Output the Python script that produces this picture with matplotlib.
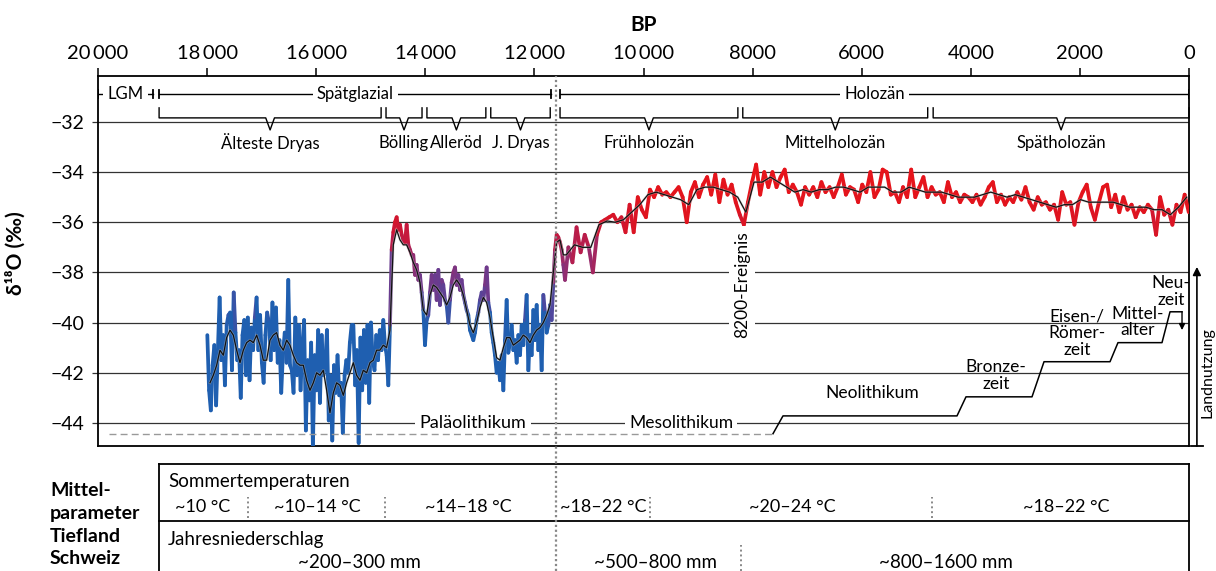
import numpy as np
import matplotlib
matplotlib.use("Agg")
import matplotlib.pyplot as plt
import matplotlib.transforms as mtransforms
from matplotlib.collections import LineCollection
from matplotlib.colors import LinearSegmentedColormap, Normalize
from matplotlib.lines import Line2D

plt.rcParams['font.family'] = ['Lato', 'DejaVu Sans']

# --- d18O Rohdaten, drei Abschnitte ---
raw_a = [-40.5, -42.7, -43.5, -41.7, -40.9, -43.3, -41.1, -39.0, -41.5, -40.5,
         -42.5, -40.1, -39.7, -39.6, -41.9, -38.8, -40.4, -41.5, -41.1, -43.0,
         -40.5, -39.9, -42.1, -39.8, -42.3, -40.2, -41.1, -39.8, -39.0, -41.1,
         -39.7, -41.6, -42.4, -40.5, -39.6, -40.0, -41.5, -39.2, -41.1, -39.4,
         -41.6, -40.7, -42.8, -41.2, -40.4, -41.6, -38.3, -41.7, -41.9, -42.8,
         -39.8, -42.1, -40.1, -42.7, -40.9, -39.9, -44.3, -41.5, -43.1, -40.8,
         -45.0, -41.3, -42.7, -40.3, -43.2, -40.5, -42.1, -41.6, -40.3, -43.9,
         -42.1, -44.7, -41.7, -42.8, -41.3, -42.9, -42.4, -44.4, -42.1, -41.5,
         -42.0, -40.8, -40.1, -40.1, -42.5, -41.1, -44.8, -40.6, -42.7, -40.3,
         -42.4, -40.1, -43.2, -40.0, -41.5, -41.9, -40.5, -41.5, -40.3, -41.1, -39.9]
raw_b = [-40.9, -41.3, -42.5, -40.1, -37.1, -36.4, -36.0, -35.8, -36.3, -36.1,
         -36.5, -36.7, -36.8, -36.1, -36.9, -37.1, -37.3, -37.3, -38.1, -37.7,
         -38.3, -38.1, -38.8, -39.5, -40.9, -39.9, -39.7, -38.8, -38.1, -38.7,
         -38.1, -39.1, -37.9, -39.3, -38.3, -38.5, -39.1, -39.3, -40.0, -39.1,
         -38.4, -38.0, -37.8, -38.5, -38.1, -38.7, -38.3, -38.9, -39.2, -39.5,
         -39.7, -40.3, -40.5, -40.7, -40.4, -39.9, -39.6, -39.1, -38.8, -39.1,
         -38.5, -37.8, -39.2, -39.6, -40.4, -40.8, -41.3, -42.0, -41.6, -42.3,
         -41.3, -42.7, -40.7, -39.1, -41.2, -40.8, -40.1, -41.1, -40.7, -41.6,
         -40.5, -41.3, -40.1, -40.9, -39.9, -38.9, -41.9, -40.5, -41.3, -39.5,
         -40.7, -39.3, -41.1, -40.1, -41.9, -38.9, -39.6, -40.4, -40.1, -39.3,
         -39.9, -38.4, -37.1, -36.5, -36.6, -36.8, -37.1, -37.7, -38.3]
raw_c = [-37.0, -37.6, -36.2, -37.2, -36.5, -37.0, -38.0, -36.5, -36.0, -35.9,
         -35.8, -35.7, -36.0, -35.8, -36.4, -35.3, -36.4, -35.0, -35.5, -35.8,
         -34.7, -35.0, -34.6, -34.9, -34.8, -35.0, -34.8, -34.6, -35.0, -36.0,
         -34.8, -34.4, -35.0, -34.5, -34.2, -34.9, -34.1, -35.2, -34.3, -34.9,
         -34.5, -35.2, -35.7, -36.1, -35.2, -34.4, -33.7, -34.9, -34.0, -34.6,
         -34.0, -34.6, -34.2, -33.9, -34.8, -34.5, -34.8, -35.3, -34.6, -34.9,
         -34.6, -35.0, -34.4, -34.8, -34.6, -35.0, -34.6, -34.1, -34.9, -34.6,
         -34.7, -35.2, -34.5, -34.8, -34.0, -35.0, -34.7, -33.9, -34.0, -34.9,
         -34.8, -35.2, -34.6, -35.0, -33.9, -35.0, -34.6, -34.2, -35.0, -34.6,
         -34.9, -34.8, -35.2, -34.4, -35.0, -34.8, -35.2, -34.9, -35.0, -35.2,
         -34.9, -35.3, -35.0, -34.6, -34.4, -35.2, -34.9, -35.3, -35.0, -35.2,
         -34.8, -35.1, -34.6, -35.2, -35.5, -35.0, -35.3, -35.2, -35.5, -35.3,
         -35.9, -34.8, -35.3, -35.2, -36.1, -35.2, -34.8, -34.5, -35.4, -35.9,
         -35.2, -34.6, -34.5, -35.4, -34.9, -35.6, -35.0, -35.5, -35.3, -35.8,
         -35.4, -35.6, -35.3, -35.5, -36.5, -35.0, -35.7, -35.5, -36.1, -35.3,
         -35.6, -34.9, -35.6]
years_a = np.linspace(17996, 14770, len(raw_a))
years_b = np.linspace(14739, 11439, len(raw_b))
years_c = np.linspace(11377, 5, len(raw_c))

# --- geglaettete Kurve (schwarz) ---
smooth_a = [-42.4, -42.1, -41.7, -41.1, -41.3, -40.6, -40.3, -40.5, -41.1, -41.6,
            -41.1, -40.8, -40.7, -40.8, -40.5, -40.9, -41.5, -41.5, -40.7, -40.5,
            -40.4, -40.9, -41.1, -40.7, -40.9, -41.3, -41.6, -41.7, -41.7, -42.3,
            -42.7, -42.4, -42.0, -42.1, -41.9, -42.7, -43.6, -42.8, -42.4, -42.5,
            -42.9, -42.4, -42.0, -41.6, -42.1, -42.3, -41.9, -42.0, -41.6, -41.5,
            -41.1, -41.1, -40.9]
smooth_b = [-41.0, -40.3, -36.9, -36.3, -36.7, -36.9, -36.9, -37.2, -37.6, -37.9,
            -38.4, -39.5, -39.7, -38.9, -38.5, -38.6, -38.8, -39.0, -39.3, -39.0,
            -38.5, -38.3, -38.5, -38.9, -39.5, -40.1, -40.4, -40.0, -39.4, -39.0,
            -39.2, -39.8, -40.6, -41.4, -41.5, -41.0, -40.6, -40.6, -40.9, -40.8,
            -40.7, -40.5, -40.6, -40.8, -40.5, -40.3, -40.2, -40.0, -39.7, -39.3,
            -38.0, -36.8, -36.7, -37.3]
smooth_c = [-37.3, -36.9, -37.0, -37.0, -36.1, -35.95, -36.0, -35.9, -35.6, -35.3,
            -34.9, -34.8, -34.9, -35.0, -35.1, -35.3, -34.7, -34.6, -34.6, -34.7,
            -34.8, -35.0, -35.6, -34.4, -34.4, -34.2, -34.4, -34.6, -34.8, -34.7,
            -34.8, -34.7, -34.7, -34.6, -34.6, -34.7, -34.8, -34.6, -34.6, -34.6,
            -34.8, -34.8, -34.6, -34.7, -34.8, -34.8, -34.8, -34.9, -35.0, -35.0,
            -35.0, -34.9, -34.8, -34.9, -35.0, -34.9, -35.0, -35.1, -35.2, -35.3,
            -35.4, -35.3, -35.3, -35.1, -35.2, -35.2, -35.2, -35.2, -35.3, -35.4,
            -35.4, -35.4, -35.5, -35.5, -35.7, -35.4, -35.0]
smooth_years_a = np.linspace(17947, 14770, len(smooth_a))
smooth_years_b = np.linspace(14709, 11470, len(smooth_b))
smooth_years_c = np.linspace(11415, 43, len(smooth_c))

# --- Zeitgliederung oben ---
epochs = ['LGM', 'Spätglazial', 'Holozän']
epoch_start = [20000, 18880, 11530]
epoch_end = [19000, 11690, 0]

periods = ['Älteste Dryas', 'Bölling', 'Alleröd', 'J. Dryas',
           'Frühholozän', 'Mittelholozän', 'Spätholozän']
period_start = [18880, 14720, 13970, 12800, 11530, 8180, 4690]
period_end = [14810, 14060, 12890, 11710, 8270, 4790, 0]

# --- Kulturepochen / Landnutzung ---
landuse_bp = [7626, 7443, 4253, 4088, 2878, 2658, 1448, 1302, 495, 348, 128]
landuse_val = [-44.43, -43.72, -43.72, -42.96, -42.96, -41.56, -41.56,
               -40.80, -40.80, -39.57, -39.57]
culture_labels = ['Neolithikum', 'Bronze-\nzeit', 'Eisen-/\nRömer-\nzeit',
                  'Mittel-\nalter', 'Neu-\nzeit']
culture_bp = [5811, 3538, 2053, 935, 330]
culture_val = [-42.80, -42.12, -40.41, -39.97, -38.77]

# --- Tabelle unten ---
temp_labels = ['~10 °C', '~10–14 °C', '~14–18 °C', '~18–22 °C', '~20–24 °C', '~18–22 °C']
temp_bp = [18084, 15985, 13217, 10742, 7278, 2255]
temp_dividers = [17250, 14739, 9881, 4711]
precip_labels = ['~200–300 mm', '~500–800 mm', '~800–1600 mm']
precip_bp = [15215, 9771, 4455]
precip_dividers = [8213]

xticks = [20000, 18000, 16000, 14000, 12000, 10000, 8000, 6000, 4000, 2000, 0]
xticklabels = ['20\u2009000', '18\u2009000', '16\u2009000', '14\u2009000', '12\u2009000',
               '10\u2009000', '8000', '6000', '4000', '2000', '0']
yticks = [-44, -42, -40, -38, -36, -34, -32]

holocene_line = 11600

W, H = 1216, 571
fig = plt.figure(figsize=(W / 100, H / 100), dpi=100)
ax = fig.add_axes([98 / W, 125 / H, 1091 / W, 370 / H])
ax.set_xlim(20000, 0)
ax.set_ylim(-44.92, -30.17)

for s in ax.spines.values():
    s.set_linewidth(1.3)

ax.xaxis.tick_top()
ax.xaxis.set_label_position('top')
ax.set_xticks(xticks)
ax.set_xticklabels(xticklabels)
ax.tick_params(axis='x', length=5.8, width=1.1, pad=4.5, labelsize=14.5)
ax.set_yticks(yticks)
ax.set_yticklabels([f'\u2212{abs(v)}' for v in yticks])
ax.tick_params(axis='y', length=4.3, width=0.9, pad=5.5, labelsize=14, color='#333')
ax.grid(axis='y', color='#333', lw=0.9, zorder=0)
ax.set_axisbelow(True)
ax.set_xlabel('BP', fontsize=15, fontweight='bold', labelpad=10)
ax.set_ylabel('δ¹⁸O (‰)', fontsize=15, fontweight='bold')
ax.yaxis.set_label_coords(-0.066, 0.52)

# Rohdaten farbig nach Wert
cmap = LinearSegmentedColormap.from_list('d18o', [
    (0.0, '#1f5fb0'), (0.12, '#4a4aa0'), (0.25, '#6e3a8c'), (0.42, '#9a2a6a'),
    (0.58, '#c4183e'), (0.75, '#e0141e'), (1.0, '#e8141a')])
norm = Normalize(-40.0, -34.0)

years = np.concatenate([years_a, years_b, years_c])
vals = np.concatenate([raw_a, raw_b, raw_c])
pts = np.column_stack([years, vals])
segs = np.stack([pts[:-1], pts[1:]], axis=1)
mid = (vals[:-1] + vals[1:]) / 2
lc = LineCollection(segs, colors=cmap(norm(mid)), linewidths=2.7,
                    capstyle='round', joinstyle='round', zorder=3)
ax.add_collection(lc)

sy = np.concatenate([smooth_years_a, smooth_years_b, smooth_years_c])
sv = np.concatenate([smooth_a, smooth_b, smooth_c])
ax.plot(sy, sv, color='#bbbbbb', lw=1.8, alpha=0.5, zorder=4)
ax.plot(sy, sv, color='#111111', lw=0.9, zorder=5)

# Epochen-Balken
row_y = -30.88
for name, a, b in zip(epochs, epoch_start, epoch_end):
    ax.plot([a, b], [row_y, row_y], color='black', lw=1.0, zorder=6)
    for e in (a, b):
        ax.plot([e, e], [row_y - 0.16, row_y + 0.16], color='black', lw=1.3, zorder=6)
    ax.text((a + b) / 2, row_y, name, ha='center', va='center', fontsize=12, zorder=7,
            bbox=dict(facecolor='white', edgecolor='none', pad=3))

# Klammern
top_y, mid_y, tip_y = -31.44, -31.84, -32.32
for name, a, b in zip(periods, period_start, period_end):
    c = (a + b) / 2
    w = 80
    ax.plot([a, a, c + w, c, c - w, b, b],
            [top_y, mid_y, mid_y, tip_y, mid_y, mid_y, top_y],
            color='black', lw=1.0, zorder=6, clip_on=False)
    ax.text(c, -32.84, name, ha='center', va='center', fontsize=12, zorder=7,
            bbox=dict(facecolor='white', edgecolor='none', pad=0.5))

# Kulturepochen
ax.plot([19800, landuse_bp[0]], [landuse_val[0], landuse_val[0]], color='#999999',
        lw=1.0, ls=(0, (5, 3)), zorder=8)
ax.plot(landuse_bp, landuse_val, color='black', lw=1.1, zorder=8, clip_on=False)
ax.annotate('', xy=(landuse_bp[-1], -40.3), xytext=(landuse_bp[-1], landuse_val[-1]),
            arrowprops=dict(arrowstyle='-|>', lw=1.0, color='black', mutation_scale=9,
                            shrinkA=0, shrinkB=0), annotation_clip=False, zorder=8)
for lab, x, y in zip(culture_labels, culture_bp, culture_val):
    ax.text(x, y, lab, ha='center', va='center', fontsize=12.5, linespacing=1.05, zorder=7)
ax.text(13126, -44, 'Paläolithikum', ha='center', va='center', fontsize=13, zorder=7,
        bbox=dict(facecolor='white', edgecolor='none', pad=3))
ax.text(9313, -44, 'Mesolithikum', ha='center', va='center', fontsize=12.5, zorder=7,
        bbox=dict(facecolor='white', edgecolor='none', pad=3))

ax.text(8200, -38.49, '8200-Ereignis', rotation=90, ha='center', va='center',
        fontsize=12.5, zorder=7, bbox=dict(facecolor='white', edgecolor='none', pad=3.5))

# Landnutzung-Pfeil rechts
ax.annotate('', xy=(-145, -37.78), xytext=(-145, -44.92),
            arrowprops=dict(arrowstyle='-|>', lw=1.2, color='black', mutation_scale=12,
                            shrinkA=0, shrinkB=0), annotation_clip=False)
ax.plot([-45, -250], [-44.92, -44.92], color='black', lw=1.3, clip_on=False)
ax.text(-335, -42.0, 'Landnutzung', rotation=90, ha='center', va='center',
        fontsize=11.5, clip_on=False)

# Beginn Holozaen: gepunktete Linie durch alles
trans = mtransforms.blended_transform_factory(ax.transData, fig.transFigure)
fig.add_artist(Line2D([holocene_line, holocene_line], [0, (H - 76) / H], transform=trans,
                      color='#888888', lw=1.6, ls=(0, (1, 1.2)), zorder=10))

# Tabelle
tab = fig.add_axes([98 / W, 0, 1091 / W, 116 / H])
tab.set_xlim(20000, 0)
tab.set_ylim(0, 116)
tab.axis('off')
box_kw = dict(color='black', lw=1.3, clip_on=False)
tab.plot([18880, 18880], [-5, 107], **box_kw)
tab.plot([0, 0], [-5, 107], **box_kw)
tab.plot([18880, 0], [107, 107], **box_kw)
tab.plot([18880, 0], [50, 50], **box_kw)
tab.text(18717, 90, 'Sommertemperaturen', ha='left', va='center', fontsize=13.5)
tab.text(18717, 32, 'Jahresniederschlag', ha='left', va='center', fontsize=13.5)
for lab, x in zip(temp_labels, temp_bp):
    tab.text(x, 64, lab, ha='center', va='center', fontsize=13)
for x in temp_dividers:
    tab.plot([x, x], [53, 74], color='#888888', lw=1.4, ls=(0, (1, 1.5)))
for lab, x in zip(precip_labels, precip_bp):
    tab.text(x, 8, lab, ha='center', va='center', fontsize=13.5)
for x in precip_dividers:
    tab.plot([x, x], [0, 26], color='#888888', lw=1.4, ls=(0, (1, 1.5)))

side_lines = ['Mittel-', 'parameter', 'Tiefland', 'Schweiz']
side_py = [491, 513, 536, 558]
for lab, py in zip(side_lines, side_py):
    fig.text(50 / W, (H - py) / H, lab, ha='left', va='center', fontsize=14,
             fontweight='bold')

fig.savefig('out.png', dpi=100)
